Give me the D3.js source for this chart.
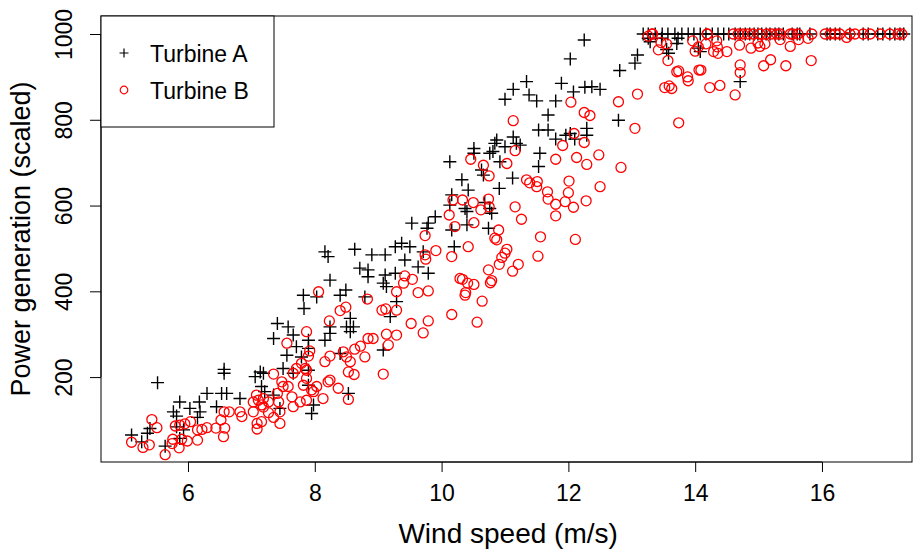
<!DOCTYPE html>
<html>
<head>
<meta charset="utf-8">
<script src="https://cdn.jsdelivr.net/npm/d3@7"></script>
<style>
    body { margin: 0; background: #fff; }
    text { font-family: "Liberation Sans", Arial, sans-serif; fill: #000; }
</style>
</head>
<body>
<div id="chart"></div>
<script>

// wind speed (m/s) and scaled power, Turbine A (+)
let windA = [5.52, 6.57, 6.57, 6.30, 5.87, 6.18, 6.03, 5.77, 5.82, 6.19, 6.15, 6.45, 6.53, 6.61, 6.82, 5.40, 5.36, 5.11, 5.27, 5.64, 5.82, 5.93, 5.87,
    7.35, 7.66, 7.90, 8.16, 8.24, 8.56, 7.56, 7.79, 7.90, 7.71, 8.40, 9.08, 7.50, 7.14, 7.06, 7.19, 7.90, 7.66, 7.16, 7.21, 7.35, 7.90, 7.98, 7.95, 7.45, 8.53,
    8.16, 8.21, 8.63, 8.90, 9.11, 9.27, 8.71, 8.84, 8.84, 9.11, 9.27, 9.08, 9.13, 8.24, 7.82, 8.03, 8.40, 8.49, 8.79, 7.83, 9.29, 9.19, 8.56, 8.50, 8.61, 8.24, 7.41, 7.58,
    9.53, 9.79, 9.77, 10.16, 10.40, 10.74, 9.37, 9.50, 9.71, 10.20, 9.42, 9.63, 9.79,
    11.13, 10.87, 10.84, 11.00, 11.18, 10.51, 10.51, 10.76, 10.81, 10.13, 10.92, 10.63, 10.66, 11.12, 10.32, 10.42, 10.91, 10.16, 10.13, 10.37, 10.40, 10.68, 10.76, 10.79, 9.90,
    12.03, 12.81, 11.34, 11.13, 11.00, 11.38, 11.50, 11.89, 12.08, 12.26, 12.37, 12.50, 11.80, 11.68, 12.79, 11.53, 11.68, 11.24, 11.80, 11.96, 12.03, 12.10, 12.29, 12.29, 11.55, 11.53,
    12.25, 13.26, 13.47, 13.55, 13.58, 13.29, 13.73, 13.71, 14.05, 14.08, 13.09, 13.05, 14.71,
    13.18, 13.26, 13.37, 13.48, 13.57, 13.68, 13.79, 13.89, 13.98, 14.08, 14.17, 14.27, 14.36, 14.45, 14.53, 14.63, 14.71, 14.79, 14.86, 14.93, 14.99,
    15.05, 15.12, 15.18, 15.26, 15.32, 15.39, 15.53, 15.61, 15.65, 15.81, 16.08, 16.13, 16.21, 16.28, 16.44, 16.65, 16.73, 16.88, 16.96, 17.07, 17.15, 17.23, 17.29];
let powerA = [187, 218, 209, 162, 142, 142, 127, 119, 109, 119, 106, 131, 162, 162, 150, 80, 69, 65, 49, 39, 84, 77, 57,
    290, 298, 286, 286, 302, 306, 251, 247, 267, 271, 255, 263, 220, 212, 201, 209, 216, 209, 178, 166, 158, 181, 135, 115, 127, 162,
    492, 481, 498, 485, 485, 504, 454, 450, 434, 438, 442, 419, 411, 426, 391, 387, 391, 403, 387, 360, 376, 341, 337, 317, 317, 317, 325, 317,
    559, 559, 547, 543, 555, 547, 512, 504, 492, 504, 473, 457, 442,
    760, 753, 745, 737, 745, 733, 722, 722, 726, 702, 702, 683, 671, 664, 660, 636, 640, 625, 601, 593, 586, 607, 593, 582, 574,
    942, 915, 889, 871, 848, 858, 844, 885, 865, 876, 877, 871, 844, 811, 799, 776, 776, 741, 755, 764, 768, 755, 780, 764, 722, 691,
    986, 990, 990, 964, 955, 982, 990, 978, 967, 959, 951, 932, 889,
    1000, 1000, 1000, 1000, 1000, 1000, 1000, 1000, 1000, 1000, 1000, 1000, 1000, 1000, 1000, 1000, 1000, 1000, 1000, 1000, 1000,
    1000, 1000, 1000, 1000, 1000, 1000, 1000, 1000, 1000, 1000, 1000, 1000, 1000, 1000, 1000, 1000, 1000, 1000, 1000, 1000, 1000, 1000, 1000];

// Turbine B (o)
let windB = [5.43, 5.51, 5.11, 5.29, 5.39, 5.64, 5.76, 5.75, 5.86, 5.90, 5.99, 6.15, 5.80, 5.87, 5.95, 6.04, 6.15, 6.22, 6.30, 6.44, 6.56, 6.58, 6.52, 6.57, 6.65, 6.82, 6.85,
    7.56, 7.87, 8.84, 8.92, 9.13, 9.29, 9.16, 8.72, 8.63, 8.79, 8.45, 8.50, 8.56, 8.24, 8.16, 7.92, 7.90, 7.79, 7.85, 7.71, 7.87, 7.35, 7.66, 7.87, 7.48, 7.50, 7.58, 7.82,
    8.24, 8.21, 8.53, 8.62, 8.37, 8.03, 7.95, 7.98, 7.41, 7.64, 8.13, 7.87, 7.77, 7.66, 7.08, 7.11, 7.19, 7.03, 7.27, 7.43, 7.16, 7.19, 7.03, 7.27, 7.45, 7.35, 7.16,
    7.09, 7.09, 7.45, 8.53, 9.08,
    8.06, 8.40, 8.49, 8.23, 8.83, 9.06, 9.12, 9.29, 9.29,
    9.74, 10.21, 10.51, 10.90, 10.84, 10.87, 9.91, 9.74, 9.75, 10.16, 10.42, 11.03, 11.00, 10.95, 10.91, 10.74, 11.21, 11.12, 9.42, 9.54, 9.40, 10.29, 10.33, 10.41,
    10.51, 10.79, 10.77, 9.63, 9.79, 10.38, 10.37, 10.64, 10.16, 9.52, 9.79, 10.56, 9.71,
    11.13, 11.16, 11.03, 10.46, 10.66, 10.75, 10.18, 10.33, 10.50, 10.74, 10.75, 10.62, 10.12, 11.16,
    11.34, 11.39, 11.51, 11.50, 12.01, 12.50, 11.67, 12.00, 11.68, 11.80, 11.95, 12.08, 12.28, 11.80, 11.26, 11.56, 12.11, 11.52,
    12.04, 12.79, 12.25, 12.34, 12.09, 12.25, 11.91, 11.80, 12.13, 12.29, 12.48, 12.83,
    13.26, 13.33, 13.46, 13.55, 13.42, 13.57, 13.96, 14.00, 14.05, 14.17, 14.19, 14.34, 14.29, 14.36, 14.50, 14.35, 14.70, 14.71, 14.71, 14.63, 14.88,
    13.71, 13.74, 13.88, 13.89, 14.06, 14.09, 13.52, 13.59, 13.63, 14.23, 14.39, 13.09, 13.05, 13.74,
    15.08, 15.19, 15.43, 15.83, 15.50, 14.99, 15.10, 15.63, 15.34, 15.78, 16.39, 15.02,
    13.32, 14.19, 14.60, 14.68, 14.75, 14.83, 14.91, 15.02, 15.13, 15.21, 15.29, 15.34, 15.50, 15.54, 15.62, 15.84,
    16.05, 16.13, 16.21, 16.28, 16.44, 16.52, 16.65, 16.76, 16.92, 17.07, 17.20, 17.26];
let powerB = [101, 82, 48, 36, 42, 19, 55, 45, 35, 55, 51, 53, 86, 88, 91, 96, 77, 78, 82, 81, 61, 81, 100, 119, 119, 119, 108,
    279, 306, 290, 290, 300, 298, 275, 272, 265, 247, 259, 247, 236, 249, 236, 261, 249, 232, 220, 220, 216, 207, 209, 197, 189, 178, 178, 181,
    193, 189, 212, 206, 174, 178, 170, 166, 162, 154, 150, 146, 142, 131, 158, 146, 150, 142, 142, 142, 135, 130, 119, 117, 119, 106, 96,
    92, 79, 92, 148, 207,
    399, 355, 363, 331, 382, 356, 359, 356, 399,
    530, 551, 560, 543, 524, 520, 495, 485, 475, 481, 504, 498, 489, 479, 463, 450, 463, 447, 436, 428, 419, 430, 428, 419,
    416, 425, 420, 397, 401, 397, 391, 377, 346, 325, 331, 328, 303,
    798, 728, 698, 708, 694, 669, 613, 613, 607, 615, 597, 590, 578, 597,
    660, 653, 656, 644, 657, 644, 632, 630, 615, 603, 609, 596, 611, 576, 568, 527, 521, 482,
    841, 842, 817, 810, 768, 747, 740, 708, 712, 696, 718, 689,
    995, 1000, 980, 977, 963, 938, 984, 960, 970, 977, 1000, 984, 959, 955, 959, 970, 974, 928, 910, 858, 967,
    912, 914, 900, 891, 916, 916, 875, 879, 873, 875, 880, 860, 780, 793,
    926, 940, 926, 938, 971, 979, 977, 987, 987, 990, 992, 971,
    1000, 1000, 1000, 1000, 1000, 1000, 1000, 1000, 1000, 1000, 1000, 1000, 1000, 1000, 1000, 1000,
    1000, 1000, 1000, 1000, 1000, 1000, 1000, 1000, 1000, 1000, 1000, 1000];

let xTicks = [6, 8, 10, 12, 14, 16];
let yTicks = [200, 400, 600, 800, 1000];
let seriesNames = ["Turbine A", "Turbine B"];

let margin = {top: 16, right: 10, bottom: 90, left: 101};
let width = 922 - margin.left - margin.right;
let height = 552 - margin.top - margin.bottom;

let svg = d3.select("#chart").append("svg")
    .attr("width", 922)
    .attr("height", 552);

let g = svg.append("g")
    .attr("transform", `translate(${margin.left},${margin.top})`);

// scales
let x = d3.scaleLinear().domain([4.628, 17.42]).range([0, width]);
let y = d3.scaleLinear().domain([2, 1042]).range([height, 0]);

// x axis
let xAxis = g.append("g")
    .attr("transform", `translate(0,${height})`)
    .call(d3.axisBottom(x).tickValues(xTicks).tickSize(10).tickPadding(5).tickFormat(d3.format("d")));
xAxis.select(".domain").attr("d", `M${x(6)},0H${x(16)}`);
xAxis.selectAll("text").style("font-size", "23px").attr("dy", null).attr("y", 39);

// y axis, labels turned like R does
let yAxis = g.append("g")
    .call(d3.axisLeft(y).tickValues(yTicks).tickSize(11).tickFormat(d3.format("d")));
yAxis.select(".domain").attr("d", `M0,${y(200)}V${y(1000)}`);
yAxis.selectAll("text")
    .style("font-size", "23px")
    .attr("x", null).attr("dy", null)
    .attr("text-anchor", "middle")
    .attr("transform", "translate(-29,0) rotate(-90)");

yAxis.selectAll("line, path").attr("stroke", "#000");
xAxis.selectAll("line, path").attr("stroke", "#000");

// frame
g.append("rect")
    .attr("width", width)
    .attr("height", height)
    .attr("fill", "none")
    .attr("stroke", "#000")
    .attr("stroke-width", 1);

// axis titles
svg.append("text")
    .attr("x", margin.left + x(11.05))
    .attr("y", 543)
    .attr("text-anchor", "middle")
    .style("font-size", "28px")
    .text("Wind speed (m/s)");

svg.append("text")
    .attr("transform", `translate(30,${margin.top + height / 2}) rotate(-90)`)
    .attr("text-anchor", "middle")
    .style("font-size", "27px")
    .text("Power generation (scaled)");

// points
let arm = 6.5;

g.append("g")
    .selectAll("path")
    .data(windA.map((d, i) => [d, powerA[i]]))
    .enter().append("path")
    .attr("d", `M${-arm},0H${arm}M0,${-arm}V${arm}`)
    .attr("transform", d => `translate(${x(d[0])},${y(d[1])})`)
    .attr("stroke", "#000")
    .attr("stroke-width", 1.4)
    .attr("fill", "none");

g.append("g")
    .selectAll("circle")
    .data(windB.map((d, i) => [d, powerB[i]]))
    .enter().append("circle")
    .attr("cx", d => x(d[0]))
    .attr("cy", d => y(d[1]))
    .attr("r", 5)
    .attr("fill", "none")
    .attr("stroke", "#ff0000")
    .attr("stroke-width", 1.3);

// legend
let legend = svg.append("g")
    .attr("transform", `translate(${margin.left},${margin.top})`);

legend.append("rect")
    .attr("width", 173)
    .attr("height", 111)
    .attr("fill", "#fff")
    .attr("stroke", "#000");

seriesNames.forEach(function (name, i) {
    let row = legend.append("g").attr("transform", `translate(23,${37 + i * 37})`);
    if (i === 0) {
        row.append("path")
            .attr("d", "M-4.5,0H4.5M0,-4.5V4.5")
            .attr("stroke", "#000")
            .attr("stroke-width", 1.2);
    } else {
        row.append("circle")
            .attr("r", 3.8)
            .attr("fill", "none")
            .attr("stroke", "#ff0000")
            .attr("stroke-width", 1.2);
    }
    row.append("text")
        .attr("x", 26)
        .attr("y", 9)
        .style("font-size", "23px")
        .text(name);
});

</script>
</body>
</html>
